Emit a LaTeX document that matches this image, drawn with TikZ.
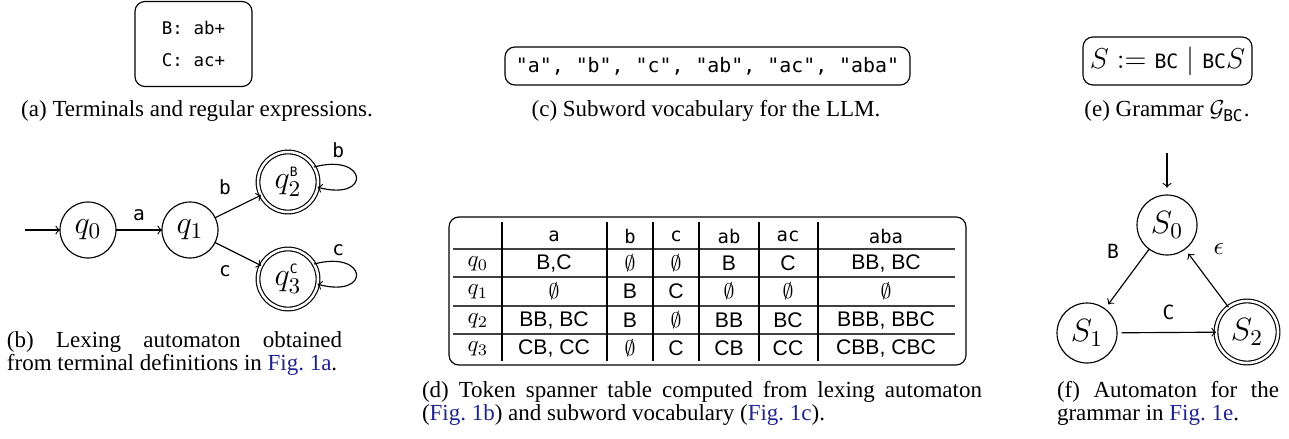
\RequirePackage{fix-cm}
\documentclass[tikz,border=0pt]{standalone}
\usepackage{amsmath}
\usepackage[no-math]{fontspec}
\setmainfont{Liberation Serif}
\setmonofont{DejaVu Sans Mono}
\newfontfamily\tabsans{Liberation Sans}
\definecolor{linkblue}{rgb}{0.12,0.14,0.56}
\newcommand\lnk[1]{\textcolor{linkblue}{#1}}
\newcommand\tkn[1]{\text{\ttfamily #1}}
\newcommand\supt[1]{\text{\fontsize{5.6}{6}\selectfont\ttfamily #1}}
\def\U{0.4348pt}
\tolerance=10000
\begin{document}
\begin{tikzpicture}[x=\U, y=-\U, line width=0.5pt,
  every node/.style={inner sep=0pt, outer sep=0pt},
  capt/.style={font=\fontsize{10}{10.4}\selectfont, align=justify, anchor=base west},
  ccapt/.style={font=\fontsize{10}{10.4}\selectfont, anchor=base},
  rbox/.style={draw, rounded corners=4.3pt},
  st/.style={circle, draw, minimum size=56*\U, font=\fontsize{14}{14}\selectfont},
  acc/.style={st, double, double distance=1.1pt, minimum size=60*\U},
  elab/.style={font=\fontsize{8.5}{8.5}\selectfont\ttfamily},
  hdr/.style={font=\fontsize{8.2}{8.2}\selectfont\ttfamily},
  tc/.style={font=\fontsize{9.2}{9.2}\selectfont\tabsans},
  ql/.style={font=\fontsize{10}{10}\selectfont},
  hrule/.style={draw=black!75, line width=0.8pt},
  vrule/.style={draw=black, line width=0.45pt}
]
\useasboundingbox (0,0) rectangle (1289,438);

% ---------- (a)
\node[rbox, minimum width=117*\U, minimum height=85*\U, align=center,
      font=\fontsize{7.6}{14.3}\selectfont\ttfamily] (boxa) at (193.5,44) {B: ab+\\C: ac+};
\node[ccapt] (capa) at (197,117) {(a) Terminals and regular expressions.};

% ---------- (b)
\coordinate (q0in) at (25,230);
\node[st] (q0) at (88,230) {$q_0$};
\node[st] (q1) at (190,230) {$q_1$};
\node[acc] (q2) at (288,182) {$q_2^{\supt{B}}$};
\node[acc] (q3) at (288,279) {$q_3^{\supt{C}}$};
\draw[->] (q0in) -- (q0);
\draw[->] (q0) -- node[elab, shift={(0,-15)}] {a} (q1);
\draw[->] (q1) -- node[elab, shift={(-13,-19)}] {b} (q2);
\draw[->] (q1) -- node[elab, shift={(-13,17)}] {c} (q3);
\draw[->] (q2.30) to[out=15,in=-15,looseness=7] node[elab, shift={(-18,-27)}] {b} (q2.-10);
\draw[->] (q3.30) to[out=15,in=-15,looseness=7] node[elab, shift={(-18,-24)}] {c} (q3.-10);
\node[capt, text width=335*\U] (capb) at (7,347)
  {(b) Lexing automaton obtained\linebreak from terminal definitions in \lnk{Fig.~1a}.};

% ---------- (c)
\node[rbox, minimum width=405*\U, minimum height=38*\U,
      font=\fontsize{8.65}{10}\selectfont\ttfamily] (boxc) at (707.5,66)
      {"a", "b", "c", "ab", "ac", "aba"};
\node[ccapt] (capc) at (706,117) {(c) Subword vocabulary for the LLM.};

% ---------- (d)
\node[rbox, minimum width=517*\U, minimum height=148*\U] (tbl) at (707.5,291) {};
\foreach \yy in {249,277,306,334} \draw[hrule] (453,\yy) -- (955,\yy);
\foreach \xx in {502,607,653,699,759,818} \draw[vrule] (\xx,222) -- (\xx,361);
% header
\node[hdr] (h1) at (554,236) {a};
\node[hdr] (h2) at (630,236) {b};
\node[hdr] (h3) at (676,236) {c};
\node[hdr] (h4) at (729,236) {ab};
\node[hdr] (h5) at (788,236) {ac};
\node[hdr] (h6) at (886,236) {aba};
% rows
\node[ql] (r0) at (478,264) {$q_0$};
\node[ql] (r1) at (478,292) {$q_1$};
\node[ql] (r2) at (478,321) {$q_2$};
\node[ql] (r3) at (478,349) {$q_3$};
\node[tc] at (554,263) {B,C};
\node[tc] at (630,263) {$\emptyset$};
\node[tc] at (676,263) {$\emptyset$};
\node[tc] at (729,263) {B};
\node[tc] at (788,263) {C};
\node[tc] at (886,263) {BB, BC};
\node[tc] at (554,291) {$\emptyset$};
\node[tc] at (630,291) {B};
\node[tc] at (676,291) {C};
\node[tc] at (729,291) {$\emptyset$};
\node[tc] at (788,291) {$\emptyset$};
\node[tc] at (886,291) {$\emptyset$};
\node[tc] at (554,320) {BB, BC};
\node[tc] at (630,320) {B};
\node[tc] at (676,320) {$\emptyset$};
\node[tc] at (729,320) {BB};
\node[tc] at (788,320) {BC};
\node[tc] at (886,320) {BBB, BBC};
\node[tc] at (554,348) {CB, CC};
\node[tc] at (630,348) {$\emptyset$};
\node[tc] at (676,348) {C};
\node[tc] at (729,348) {CB};
\node[tc] at (788,348) {CC};
\node[tc] at (886,348) {CBB, CBC};
\node[capt, text width=560*\U] (capd) at (422,397)
  {(d) Token spanner table computed from lexing automaton\linebreak (\lnk{Fig.~1b}) and subword vocabulary (\lnk{Fig.~1c}).};

% ---------- (e)
\node[rbox, minimum width=169*\U, minimum height=48*\U,
      font=\fontsize{12.5}{14}\selectfont] (boxe) at (1167.5,61)
      {$S := \text{\fontsize{8.6}{10}\selectfont\ttfamily BC} \mid \text{\fontsize{8.6}{10}\selectfont\ttfamily BC}S$};
\node[ccapt] (cape) at (1167,117) {(e) Grammar $\mathcal{G}_{\tkn{BC}}$.};

% ---------- (f)
\coordinate (S0in) at (1167,153);
\node[st, minimum size=60*\U] (S0) at (1167,225) {$S_0$};
\node[st, minimum size=60*\U] (S1) at (1087,333) {$S_1$};
\node[acc, minimum size=62*\U] (S2) at (1247,332) {$S_2$};
\draw[->, shorten >=3.2pt] (S0in) -- (S0);
\draw[->, shorten >=2.5pt] (S0) -- node[elab, shift={(-14,-28)}] {B} (S1);
\draw[->, shorten <=2pt] (S1) -- node[elab, shift={(2,-20)}] {C} (S2);
\draw[->, shorten >=2.5pt] (S2) -- node[font=\fontsize{11}{11}\selectfont, shift={(12,-29)}] {$\epsilon$} (S0);
\node[capt, text width=222*\U] (capf) at (1057,397)
  {(f) Automaton for the\linebreak grammar in \lnk{Fig.~1e}.};
\end{tikzpicture}
\end{document}
